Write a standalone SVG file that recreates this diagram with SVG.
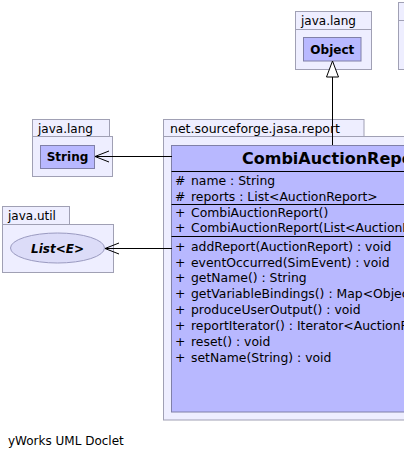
<svg xmlns="http://www.w3.org/2000/svg" width="404" height="458" viewBox="0 0 404 458">
<style>
.pkg{fill:#eeeeff;stroke:#a0a0b4;stroke-width:1}
.cls{fill:#b8b8ff;stroke:#8080a8;stroke-width:1}
.sep{stroke:#000;stroke-width:1}
.lbl{font-family:"DejaVu Sans",sans-serif;font-size:12px;fill:#000}
.bold{font-family:"DejaVu Sans",sans-serif;font-size:12px;font-weight:bold;fill:#000}
.title{font-family:"DejaVu Sans",sans-serif;font-size:16px;font-weight:bold;fill:#000}
.mem{font-family:"DejaVu Sans",sans-serif;font-size:12.4px;fill:#000}
.conn{stroke:#000;stroke-width:1;fill:none}
</style>
<rect width="404" height="458" fill="#ffffff"/>
<g id="pkg-partial">
<rect class="pkg" x="398.5" y="2.5" width="20" height="67"/>
<line x1="398.5" y1="20.5" x2="404" y2="20.5" stroke="#a0a0b4"/>
</g>
<g id="pkg-java-lang-object">
<rect class="pkg" x="295.5" y="11.5" width="76" height="18"/>
<rect class="pkg" x="295.5" y="29.5" width="76" height="40"/>
<text class="lbl" x="301" y="24.5">java.lang</text>
</g>
<g id="Object">
<rect class="cls" x="303.5" y="37.5" width="57.5" height="23.5"/>
<text class="bold" x="332.3" y="54" text-anchor="middle">Object</text>
</g>
<g id="pkg-java-lang-string">
<rect class="pkg" x="32.5" y="119.5" width="77" height="17"/>
<rect class="pkg" x="32.5" y="136.5" width="80" height="40"/>
<text class="lbl" x="38" y="132.5">java.lang</text>
</g>
<g id="String">
<rect class="cls" x="40.5" y="145.5" width="54" height="23"/>
<text class="bold" x="67.5" y="161" text-anchor="middle">String</text>
</g>
<g id="pkg-java-util">
<rect class="pkg" x="2.5" y="206.5" width="67" height="18"/>
<rect class="pkg" x="2.5" y="224.5" width="111" height="48"/>
<text class="lbl" x="8" y="220">java.util</text>
</g>
<g id="List">
<ellipse cx="57.5" cy="248" rx="47" ry="15" fill="#dcdcf8" stroke="#9a9ac0"/>
<text class="bold" x="57.5" y="252.5" text-anchor="middle" font-style="italic">List&lt;E&gt;</text>
</g>
<g id="pkg-net-sourceforge-jasa-report">
<rect class="pkg" x="163.5" y="119.5" width="200.5" height="17"/>
<rect class="pkg" x="163.5" y="136.5" width="260" height="283.5"/>
<text class="lbl" x="170" y="132.5" style="font-size:12.5px">net.sourceforge.jasa.report</text>
</g>
<g id="CombiAuctionReport">
<rect class="cls" x="171.5" y="145.5" width="260" height="266.5"/>
<text class="title" x="242" y="164">CombiAuctionReport</text>
<line class="sep" x1="171.5" y1="171.5" x2="404" y2="171.5"/>
<text class="mem" y="185"><tspan x="175">#</tspan><tspan x="191">name : String</tspan></text>
<text class="mem" y="200.8"><tspan x="175">#</tspan><tspan x="191">reports : List&lt;AuctionReport&gt;</tspan></text>
<line class="sep" x1="171.5" y1="204.5" x2="404" y2="204.5"/>
<text class="mem" y="216.6"><tspan x="175">+</tspan><tspan x="191">CombiAuctionReport()</tspan></text>
<text class="mem" y="232"><tspan x="175">+</tspan><tspan x="191">CombiAuctionReport(List&lt;AuctionReport&gt;)</tspan></text>
<line class="sep" x1="171.5" y1="236.5" x2="404" y2="236.5"/>
<text class="mem" y="250.7"><tspan x="175">+</tspan><tspan x="191">addReport(AuctionReport) : void</tspan></text>
<text class="mem" y="266.55"><tspan x="175">+</tspan><tspan x="191">eventOccurred(SimEvent) : void</tspan></text>
<text class="mem" y="282.4"><tspan x="175">+</tspan><tspan x="191">getName() : String</tspan></text>
<text class="mem" y="298.25"><tspan x="175">+</tspan><tspan x="191">getVariableBindings() : Map&lt;Object,Object&gt;</tspan></text>
<text class="mem" y="314.1"><tspan x="175">+</tspan><tspan x="191">produceUserOutput() : void</tspan></text>
<text class="mem" y="329.95"><tspan x="175">+</tspan><tspan x="191">reportIterator() : Iterator&lt;AuctionReport&gt;</tspan></text>
<text class="mem" y="345.8"><tspan x="175">+</tspan><tspan x="191">reset() : void</tspan></text>
<text class="mem" y="361.65"><tspan x="175">+</tspan><tspan x="191">setName(String) : void</tspan></text>
</g>
<g id="connectors">
<line class="conn" x1="332.5" y1="145" x2="332.5" y2="77"/>
<polygon points="332.5,61 326.5,77 338.5,77" fill="#ffffff" stroke="#000"/>
<line class="conn" x1="172" y1="156.5" x2="95" y2="156.5"/>
<polyline class="conn" points="109,151 95,156.5 109,162"/>
<line class="conn" x1="172" y1="248.5" x2="105" y2="248.5"/>
<polyline class="conn" points="119,243 105,248.5 119,254"/>
</g>
<text class="lbl" x="8" y="444.5">yWorks UML Doclet</text>
</svg>
